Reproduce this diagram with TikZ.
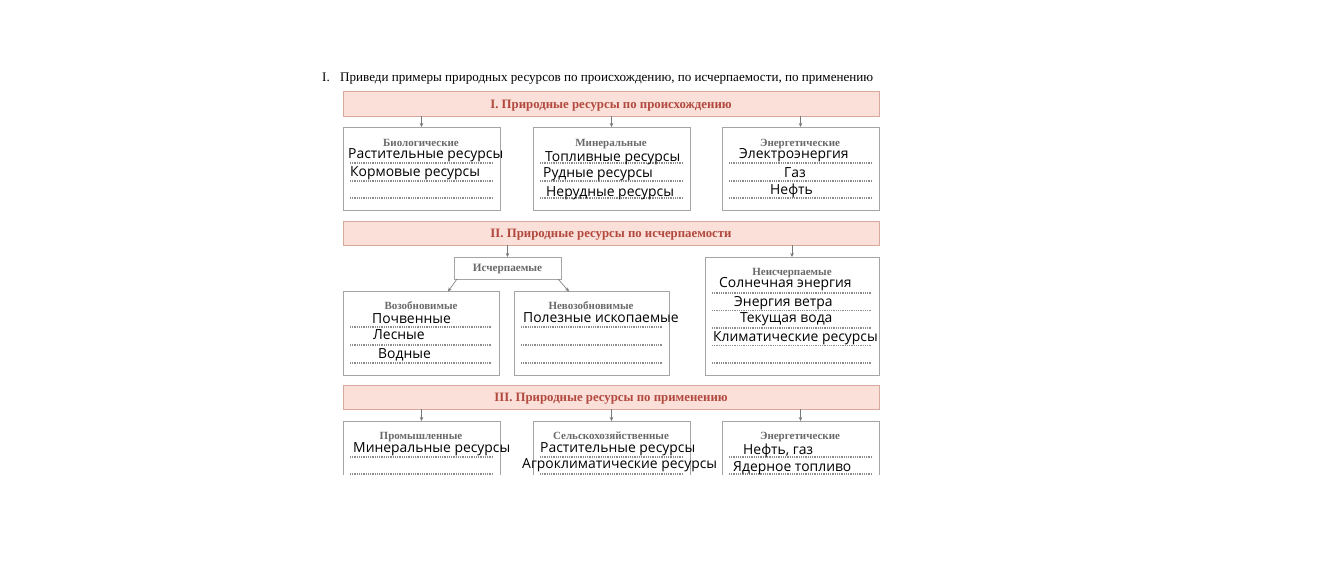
\documentclass[tikz,border=0pt]{standalone}
\usepackage{fontspec}
\setmainfont{Liberation Serif}
\newfontfamily\handfont{Open Sans}
\usetikzlibrary{arrows.meta}
\definecolor{bannerfill}{RGB}{250,224,216}
\definecolor{bannerdraw}{RGB}{214,168,158}
\definecolor{bannertext}{RGB}{178,72,62}
\definecolor{boxgray}{RGB}{165,165,165}
\definecolor{dotgray}{RGB}{140,140,140}
\definecolor{lblgray}{RGB}{105,105,105}
\definecolor{arrgray}{RGB}{120,120,120}
\tikzset{
  banner/.style={draw=bannerdraw, fill=bannerfill, line width=0.9pt, inner sep=0pt, outer sep=0pt, anchor=north west,
     font=\fontsize{12.8}{14}\selectfont\bfseries, text=bannertext, text height=9pt, text depth=0pt},
  boxn/.style={draw=boxgray, line width=0.8pt, inner sep=0pt, outer sep=0pt, anchor=north west},
  openbox/.style={inner sep=0pt, outer sep=0pt, anchor=north west},
  frame/.style={draw=boxgray, line width=0.8pt},
  dots/.style={draw=dotgray, line width=1.1pt, dash pattern=on 0.8pt off 1pt},
  arr/.style={draw=arrgray, line width=0.6pt, -{Stealth[length=4pt,width=3.5pt]}},
  hand/.style={font=\handfont\fontsize{13.9}{15}\selectfont, anchor=base west, inner sep=0pt},
  lbl/.style={font=\fontsize{11}{12}\selectfont\bfseries, text=lblgray, inner sep=0pt, anchor=base},
}
\begin{document}
\begin{tikzpicture}[x=1pt,y=-1pt]
\useasboundingbox[fill=white] (0,0) rectangle (1340,571);
% heading line
\node[anchor=base west, inner sep=0pt, font=\fontsize{13.1}{14}\selectfont] (numI) at (322,81) {I.};
\node[anchor=base west, inner sep=0pt, font=\fontsize{13.1}{14}\selectfont] (task) at (340,81) {Приведи примеры природных ресурсов по происхождению, по исчерпаемости, по применению};

% ===== Section I =====
\node[banner, minimum width=536pt, minimum height=25pt] (b1) at (343,91) {I. Природные ресурсы по происхождению};
\node[boxn, minimum width=157pt, minimum height=83pt] (bio) at (343,127) {};
\node[boxn, minimum width=157pt, minimum height=83pt] (min) at (533,127) {};
\node[boxn, minimum width=157pt, minimum height=83pt] (en) at (722,127) {};
\draw[arr] (b1.south -| bio.north) -- (bio.north);
\draw[arr] (b1.south -| min.north) -- (min.north);
\draw[arr] (b1.south -| en.north) -- (en.north);
\node[lbl] (biol) at (421,146.5) {Биологические};
\node[lbl] (minl) at (611,146.5) {Минеральные};
\node[lbl] (enl) at (800,146.5) {Энергетические};
\foreach \y in {163,181,198} {
  \draw[dots] (350,\y) -- (493,\y);
  \draw[dots] (540,\y) -- (683,\y);
  \draw[dots] (729,\y) -- (872,\y);
}
\node[hand] (t1) at (348,158) {Растительные ресурсы};
\node[hand] (t2) at (350,176) {Кормовые ресурсы};
\node[hand] (t3) at (545,161) {Топливные ресурсы};
\node[hand] (t4) at (543,177) {Рудные ресурсы};
\node[hand] (t5) at (546,196) {Нерудные ресурсы};
\node[hand] (t6) at (739,158) {Электроэнергия};
\node[hand] (t7) at (784,177) {Газ};
\node[hand] (t8) at (770,194) {Нефть};

% ===== Section II =====
\node[banner, minimum width=536pt, minimum height=24pt] (b2) at (343,221) {II. Природные ресурсы по исчерпаемости};
\node[boxn, minimum width=107pt, minimum height=22pt, font=\fontsize{11.2}{12}\selectfont\bfseries, text=lblgray,
      text height=7pt, text depth=0pt] (isch) at (454,257) {Исчерпаемые};
\node[boxn, minimum width=174pt, minimum height=118pt] (neisch) at (705,257) {};
\node[boxn, minimum width=156pt, minimum height=84pt] (vozob) at (343,291) {};
\node[boxn, minimum width=155pt, minimum height=84pt] (nevozob) at (514,291) {};
\draw[arr] (b2.south -| isch.north) -- (isch.north);
\draw[arr] (b2.south -| 792,0) -- (neisch.north -| 792,0);
\draw[arr] ([xshift=3pt]isch.south west) -- ([xshift=-6pt,yshift=-0.5pt]isch.south west |- vozob.north);
\draw[arr] ([xshift=-3pt]isch.south east) -- ([xshift=8pt,yshift=-0.5pt]isch.south east |- nevozob.north);
\node[lbl] (vozobl) at (421,309.5) {Возобновимые};
\node[lbl] (nevozobl) at (591,309.5) {Невозобновимые};
\node[lbl] (neischl) at (792,275) {Неисчерпаемые};
\foreach \y in {327,345,363} {
  \draw[dots] (350,\y) -- (492,\y);
  \draw[dots] (521,\y) -- (662,\y);
}
\foreach \y in {293,310.5,328,345.5,363} {
  \draw[dots] (712,\y) -- (872,\y);
}
\node[hand] (t9) at (372,323) {Почвенные};
\node[hand] (t10) at (373,339) {Лесные};
\node[hand] (t11) at (378,358) {Водные};
\node[hand] (t12) at (523,322) {Полезные ископаемые};
\node[hand] (t13) at (719,287) {Солнечная энергия};
\node[hand] (t14) at (734,306) {Энергия ветра};
\node[hand] (t15) at (740,322) {Текущая вода};
\node[hand] (t16) at (713,341) {Климатические ресурсы};

% ===== Section III =====
\node[banner, minimum width=536pt, minimum height=24pt] (b3) at (343,385) {III. Природные ресурсы по применению};
\node[openbox, minimum width=157pt, minimum height=54pt] (prom) at (343,421) {};
\node[openbox, minimum width=157pt, minimum height=54pt] (selh) at (533,421) {};
\node[openbox, minimum width=157pt, minimum height=54pt] (en3) at (722,421) {};
\foreach \b in {prom,selh,en3} {
  \draw[frame] (\b.south west) -- (\b.north west) -- (\b.north east) -- (\b.south east);
}
\draw[arr] (b3.south -| prom.north) -- (prom.north);
\draw[arr] (b3.south -| selh.north) -- (selh.north);
\draw[arr] (b3.south -| en3.north) -- (en3.north);
\node[lbl] (proml) at (421,439.5) {Промышленные};
\node[lbl] (selhl) at (611,439.5) {Сельскохозяйственные};
\node[lbl] (en3l) at (800,439.5) {Энергетические};
\foreach \y in {457,474} {
  \draw[dots] (350,\y) -- (493,\y);
  \draw[dots] (540,\y) -- (683,\y);
  \draw[dots] (729,\y) -- (872,\y);
}
\node[hand] (t17) at (353,452) {Минеральные ресурсы};
\node[hand] (t18) at (540,452) {Растительные ресурсы};
\node[hand] (t19) at (522,468) {Агроклиматические ресурсы};
\node[hand] (t20) at (743,454) {Нефть, газ};
\node[hand] (t21) at (733,471) {Ядерное топливо};
\end{tikzpicture}
\end{document}
